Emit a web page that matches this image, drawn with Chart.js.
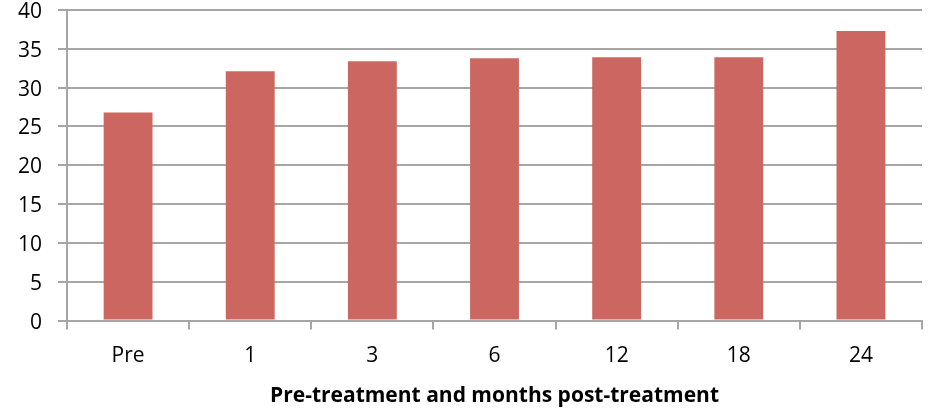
<!DOCTYPE html>
<html>
<head>
<meta charset="utf-8">
<script src="https://cdn.jsdelivr.net/npm/chart.js@4"></script>
<style>
  html, body { margin: 0; padding: 0; background: #fff; }
  #wrap { width: 931px; height: 412px; }
</style>
</head>
<body>
<div id="wrap"><canvas id="barChart"></canvas></div>
<script>
const categories = ['Pre', '1', '3', '6', '12', '18', '24'];
const values = [26.8, 32.1, 33.4, 33.8, 33.9, 33.9, 37.3];
const yTicks = [0, 5, 10, 15, 20, 25, 30, 35, 40];
const xTitle = 'Pre-treatment and months post-treatment';

const gridColor = '#a6a6a6';
const ctx = document.getElementById('barChart').getContext('2d');
const barChart = new Chart(ctx, {
    type: 'bar',
    data: {
        labels: categories,
        datasets: [{
            data: values,
            backgroundColor: '#cc6660',
            borderWidth: 0,
            barPercentage: 0.4,
            categoryPercentage: 1
        }]
    },
    options: {
        responsive: true,
        maintainAspectRatio: false,
        animation: false,
        layout: { padding: { top: 10, right: 9, left: 2, bottom: 3 } },
        plugins: { legend: { display: false }, tooltip: { enabled: false } },
        scales: {
            x: {
                grid: { offset: true, drawOnChartArea: false, drawTicks: true, tickLength: 9, color: gridColor, lineWidth: 2 },
                border: { color: gridColor, width: 2 },
                ticks: { color: '#000', font: { family: 'Open Sans', size: 21 }, padding: 14 },
                title: { display: true, text: xTitle, color: '#000', font: { family: 'Open Sans', size: 21, weight: 'bold' }, padding: { top: 1, bottom: 0 } }
            },
            y: {
                min: 0,
                max: 40,
                afterBuildTicks: axis => { axis.ticks = yTicks.map(v => ({ value: v })); },
                // tick padding would otherwise push the plot top down
                afterFit: axis => { axis.paddingTop = 0; },
                grid: { color: gridColor, lineWidth: 2, tickLength: 9 },
                border: { color: gridColor, width: 2 },
                ticks: { color: '#000', font: { family: 'Open Sans', size: 21 }, padding: 16, labelOffset: 2 }
            }
        }
    }
});
</script>
</body>
</html>
